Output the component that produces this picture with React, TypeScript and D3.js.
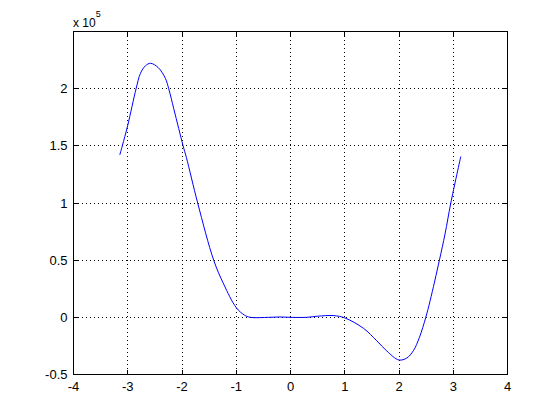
import React, { useRef, useEffect } from 'react';
import * as d3 from 'd3';

// curve samples (y in units of 1e5)
const xs = [-3.147, -3.1, -3.0, -2.846, -2.766, -2.674, -2.58, -2.44, -2.306, -2.245, -2.153, -2.061, -1.98, -1.919, -1.711, -1.416, -1.233, -1.0, -0.85, -0.74, -0.4, -0.2, 0.0, 0.3, 0.5, 0.8, 1.0, 1.345, 1.59, 1.776, 1.997, 2.143, 2.265, 2.377, 2.494, 2.574, 2.745, 2.849, 2.955, 3.139];
const ys = [1.42, 1.5, 1.68, 2.0, 2.134, 2.2, 2.222, 2.185, 2.09, 2.0, 1.827, 1.652, 1.5, 1.398, 1.0, 0.5, 0.292, 0.085, 0.02, 0.0, 0.0, 0.003, 0.0, 0.0, 0.01, 0.015, -0.005, -0.096, -0.205, -0.295, -0.373, -0.356, -0.292, -0.175, 0.0, 0.146, 0.5, 0.73, 1.0, 1.407];

const xTicks = [-4, -3, -2, -1, 0, 1, 2, 3, 4];
const yTicks = [-0.5, 0, 0.5, 1, 1.5, 2, 2.5];
const yLabels = ['-0.5', '0', '0.5', '1', '1.5', '2', ''];

function App() {
  const ref = useRef<SVGSVGElement>(null);

  useEffect(() => {
    const svg = d3.select(ref.current);
    svg.selectAll('*').remove();

    const left = 73.5, right = 507.5, top = 31.5, bottom = 374.5;
    const x = d3.scaleLinear().domain([-4, 4]).range([left, right]);
    const y = d3.scaleLinear().domain([-0.5, 2.5]).range([bottom, top]);
    const px = (v: number) => Math.round(x(v) - 0.5) + 0.5;
    const py = (v: number) => Math.round(y(v) - 0.5) + 0.5;
    const font = '"Liberation Sans", Arial, sans-serif';

    // grid
    const grid = svg.append('g').attr('stroke', '#000').attr('stroke-dasharray', '1,3').attr('shape-rendering', 'crispEdges');
    xTicks.slice(1, -1).forEach(t => {
      grid.append('line').attr('x1', px(t)).attr('x2', px(t)).attr('y1', top).attr('y2', bottom);
    });
    yTicks.slice(1, -1).forEach(t => {
      grid.append('line').attr('y1', py(t)).attr('y2', py(t)).attr('x1', left).attr('x2', right);
    });

    // curve
    const pts: [number, number][] = xs.map((d, i) => [d, ys[i]]);
    const line = d3.line<[number, number]>()
      .x(d => x(d[0]))
      .y(d => y(d[1]))
      .curve(d3.curveCatmullRom.alpha(0.5));
    svg.append('path').attr('d', line(pts)).attr('fill', 'none').attr('stroke', '#0000ff').attr('stroke-width', 1);

    // frame + ticks
    const ax = svg.append('g').attr('stroke', '#000').attr('shape-rendering', 'crispEdges');
    ax.append('rect').attr('x', left).attr('y', top).attr('width', right - left).attr('height', bottom - top).attr('fill', 'none');
    const tl = 5;
    xTicks.forEach(t => {
      ax.append('line').attr('x1', px(t)).attr('x2', px(t)).attr('y1', bottom).attr('y2', bottom - tl);
      ax.append('line').attr('x1', px(t)).attr('x2', px(t)).attr('y1', top).attr('y2', top + tl);
    });
    yTicks.forEach(t => {
      ax.append('line').attr('y1', py(t)).attr('y2', py(t)).attr('x1', left).attr('x2', left + tl);
      ax.append('line').attr('y1', py(t)).attr('y2', py(t)).attr('x1', right).attr('x2', right - tl);
    });

    // labels
    const lab = svg.append('g').attr('font-family', font).attr('font-size', 13).attr('fill', '#000');
    xTicks.forEach(t => {
      lab.append('text').attr('x', x(t)).attr('y', 391).attr('text-anchor', 'middle').text(String(t));
    });
    yTicks.forEach((t, i) => {
      lab.append('text').attr('x', 67.5).attr('y', y(t)).attr('dy', '0.35em').attr('text-anchor', 'end').text(yLabels[i]);
    });
    const ex = lab.append('text').attr('x', 73).attr('y', 27).attr('font-size', 12);
    ex.append('tspan').text('x 10');
    ex.append('tspan').attr('dy', -10).attr('font-size', 9).text('5');
  }, []);

  return (
    <svg ref={ref} width={560} height={420} style={{ position: 'absolute', left: 0, top: 0, background: '#fff' }}></svg>
  );
}

export default App;
